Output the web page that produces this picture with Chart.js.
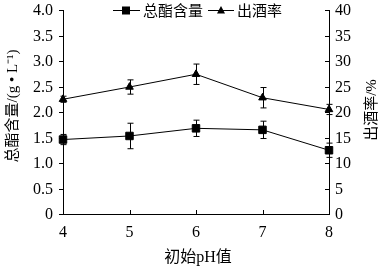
<!DOCTYPE html>
<html>
<head>
<meta charset="utf-8">
<script src="https://cdn.jsdelivr.net/npm/chart.js@4"></script>
<style>
  html, body { margin: 0; padding: 0; background: #fff; }
  #wrap { width: 381px; height: 270px; }
</style>
</head>
<body>
<div id="wrap"><canvas id="chart"></canvas></div>
<script>
// --- data ---
const phLabels = [4, 5, 6, 7, 8];
const esterValues = [1.46, 1.53, 1.68, 1.65, 1.25];
const esterErrors = [0.10, 0.25, 0.16, 0.17, 0.14];
const yieldValues = [22.5, 24.9, 27.4, 22.8, 20.5];
const yieldErrors = [0.6, 1.4, 2.0, 2.0, 1.0];
const leftTicks = [0, 0.5, 1.0, 1.5, 2.0, 2.5, 3.0, 3.5, 4.0];
const rightTicks = [0, 5, 10, 15, 20, 25, 30, 35, 40];

const SERIF = '"Liberation Serif", serif';
const MIXED = '"Liberation Serif", "Noto Sans CJK SC", serif';
const CJK = '"Noto Sans CJK SC", sans-serif';

// error bars, ticks, tick labels, titles and the legend, placed through the chart's scales
const extras = {
    id: 'extras',
    beforeDatasetsDraw(chart) {
        const ctx = chart.ctx;
        const x = chart.scales.x;
        const pairs = [
            { scale: chart.scales.y, vals: esterValues, errs: esterErrors },
            { scale: chart.scales.y1, vals: yieldValues, errs: yieldErrors }
        ];
        ctx.save();
        ctx.strokeStyle = '#000';
        ctx.lineWidth = 1;
        pairs.forEach(p => {
            p.vals.forEach((v, i) => {
                const px = Math.round(x.getPixelForValue(phLabels[i])) + 0.5;
                const top = p.scale.getPixelForValue(v + p.errs[i]);
                const bot = p.scale.getPixelForValue(v - p.errs[i]);
                ctx.beginPath();
                ctx.moveTo(px, top); ctx.lineTo(px, bot);
                ctx.moveTo(px - 3, top); ctx.lineTo(px + 3, top);
                ctx.moveTo(px - 3, bot); ctx.lineTo(px + 3, bot);
                ctx.stroke();
            });
        });
        ctx.restore();
    },
    afterDraw(chart) {
        const ctx = chart.ctx;
        const { x, y, y1 } = chart.scales;
        const area = chart.chartArea;
        ctx.save();
        ctx.strokeStyle = '#000';
        ctx.fillStyle = '#000';
        ctx.lineWidth = 1;
        ctx.beginPath();
        // left ticks point outward
        leftTicks.forEach(t => {
            const py = Math.round(y.getPixelForValue(t)) + 0.5;
            ctx.moveTo(area.left - 4, py); ctx.lineTo(area.left, py);
        });
        // right ticks point inward
        rightTicks.forEach(t => {
            const py = Math.round(y1.getPixelForValue(t)) + 0.5;
            ctx.moveTo(area.right - 4, py); ctx.lineTo(area.right, py);
        });
        // bottom ticks point inward
        phLabels.forEach(t => {
            const px = Math.round(x.getPixelForValue(t)) + 0.5;
            ctx.moveTo(px, area.bottom); ctx.lineTo(px, area.bottom - 4);
        });
        ctx.stroke();

        // tick labels
        ctx.font = '16px ' + SERIF;
        ctx.textBaseline = 'middle';
        ctx.textAlign = 'right';
        leftTicks.forEach(t => {
            ctx.fillText(t === 0 ? '0' : t.toFixed(1), area.left - 10, y.getPixelForValue(t) + 1);
        });
        ctx.textAlign = 'left';
        rightTicks.forEach(t => {
            ctx.fillText(String(t), area.right + 6, y1.getPixelForValue(t) + 1);
        });
        ctx.textAlign = 'center';
        phLabels.forEach(t => {
            ctx.fillText(String(t), x.getPixelForValue(t), area.bottom + 19);
        });

        // axis titles
        ctx.font = '16px ' + MIXED;
        ctx.fillText('初始pH值', (area.left + area.right) / 2 + 2, 258);
        ctx.font = '15px ' + MIXED;
        ctx.save();
        ctx.translate(13, 106);
        ctx.rotate(-Math.PI / 2);
        ctx.fillText('总酯含量/(g • L⁻¹)', 0, 0);
        ctx.restore();
        ctx.save();
        ctx.translate(372, 110);
        ctx.rotate(-Math.PI / 2);
        ctx.fillText('出酒率/%', 0, 0);
        ctx.restore();

        // legend
        const ly = 10;
        ctx.beginPath();
        ctx.moveTo(113, ly + 0.5); ctx.lineTo(140, ly + 0.5);
        ctx.moveTo(208, ly + 0.5); ctx.lineTo(234, ly + 0.5);
        ctx.stroke();
        ctx.fillRect(122, ly - 3.5, 8, 8);
        ctx.beginPath();
        ctx.moveTo(221, ly - 4); ctx.lineTo(225, ly + 3.5); ctx.lineTo(217, ly + 3.5);
        ctx.closePath();
        ctx.fill();
        ctx.font = '15px ' + CJK;
        ctx.textAlign = 'left';
        ctx.fillText('总酯含量', 143, ly);
        ctx.fillText('出酒率', 237, ly);
        ctx.restore();
    }
};

const axisBase = {
    grid: { display: false, drawTicks: false },
    border: { display: true, color: '#000', width: 1 },
    ticks: { display: false },
    title: { display: false }
};

new Chart(document.getElementById('chart'), {
    type: 'line',
    data: {
        datasets: [
            {
                label: '总酯含量',
                data: phLabels.map((p, i) => ({ x: p, y: esterValues[i] })),
                yAxisID: 'y',
                borderColor: '#000',
                backgroundColor: '#000',
                borderWidth: 1,
                pointStyle: 'rect',
                pointRadius: 5.3,
                tension: 0,
                clip: false
            },
            {
                label: '出酒率',
                data: phLabels.map((p, i) => ({ x: p, y: yieldValues[i] })),
                yAxisID: 'y1',
                borderColor: '#000',
                backgroundColor: '#000',
                borderWidth: 1,
                pointStyle: 'triangle',
                pointRadius: 4.4,
                tension: 0,
                clip: false
            }
        ]
    },
    options: {
        responsive: true,
        maintainAspectRatio: false,
        animation: false,
        layout: { padding: { top: 10, left: 63, right: 52, bottom: 56 } },
        plugins: { legend: { display: false }, tooltip: { enabled: false } },
        scales: {
            x: { ...axisBase, type: 'linear', min: 4, max: 8 },
            y: { ...axisBase, position: 'left', min: 0, max: 4 },
            y1: { ...axisBase, position: 'right', min: 0, max: 40 }
        }
    },
    plugins: [extras]
});
</script>
</body>
</html>
